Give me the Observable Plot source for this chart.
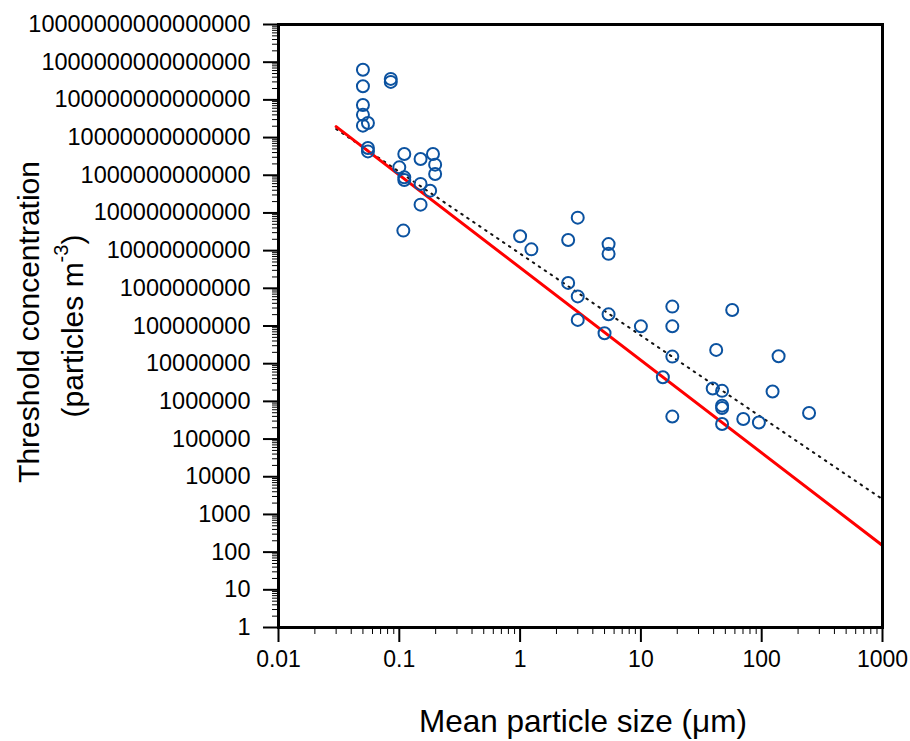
<!DOCTYPE html>
<html><head><meta charset="utf-8">
<script src="https://cdn.jsdelivr.net/npm/d3@7"></script>
<script src="https://cdn.jsdelivr.net/npm/@observablehq/plot@0.6"></script>
<style>body{margin:0;background:#fff;color:#000} svg{font-family:"Liberation Sans",Arial,sans-serif}</style>
</head><body><div id="chart"></div>
<script>
// Observed data: mean particle size (µm) and threshold concentration (particles m^-3)
const sizeUm = [
  0.05, 0.05, 0.05, 0.05, 0.05,
  0.055, 0.055, 0.055,
  0.085, 0.085,
  0.11, 0.11, 0.11, 0.10,
  0.15, 0.15, 0.15,
  0.19, 0.198, 0.198, 0.18, 0.108,
  1.0, 1.24, 3.0, 2.5, 5.4, 5.4,
  2.5, 3.0, 3.0, 5.4, 5.0, 10,
  18.2, 18.2, 18.2, 18.2,
  57, 42, 138, 15.2, 39.3,
  47, 47, 47, 47,
  123, 70.4, 94.8, 246.6
];
const concentration = [
  6.3e14, 2.3e14, 7.3e13, 4.0e13, 2.07e13,
  2.44e13, 5.3e12, 4.3e12,
  3.6e14, 3.0e14,
  3.67e12, 8.8e11, 7.5e11, 1.62e12,
  2.7e12, 5.9e11, 1.66e11,
  3.67e12, 1.91e12, 1.08e12, 3.9e11, 3.4e10,
  2.4e10, 1.08e10, 7.5e10, 1.92e10, 1.49e10, 8.2e9,
  1.39e9, 6.1e8, 1.45e8, 2.04e8, 6.4e7, 9.8e7,
  3.27e8, 9.8e7, 1.54e7, 3.95e5,
  2.67e8, 2.32e7, 1.57e7, 4.36e6, 2.19e6,
  1.9e6, 7.7e5, 6.7e5, 2.5e5,
  1.82e6, 3.4e5, 2.74e5, 4.9e5
];
// Fitted lines (end points)
const fitSize = [0.03, 1000];
const redFit = [1.95e13, 150];
const dottedFit = [1.69e13, 2530];

// Tick values and labels
const xTicks = [0.01, 0.1, 1, 10, 100, 1000];
const xTickLabels = ["0.01", "0.1", "1", "10", "100", "1000"];
const yTicks = [1, 1e1, 1e2, 1e3, 1e4, 1e5, 1e6, 1e7, 1e8, 1e9, 1e10, 1e11, 1e12, 1e13, 1e14, 1e15, 1e16];
const yTickLabels = ["1", "10", "100", "1000", "10000", "100000", "1000000", "10000000", "100000000",
  "1000000000", "10000000000", "100000000000", "1000000000000", "10000000000000",
  "100000000000000", "1000000000000000", "10000000000000000"];

const minorOf = (ticks) => ticks.slice(0, -1).flatMap(d => [2,3,4,5,6,7,8,9].map(k => d * k));
const xMinor = minorOf(xTicks);
const yMinor = minorOf(yTicks);

const points = sizeUm.map((x, i) => ({x, y: concentration[i]}));
const red = fitSize.map((x, i) => ({x, y: redFit[i]}));
const dotted = fitSize.map((x, i) => ({x, y: dottedFit[i]}));

const chart = Plot.plot({
  width: 910, height: 741,
  marginLeft: 278, marginRight: 28, marginTop: 24, marginBottom: 114,
  style: {fontFamily: "Liberation Sans, Arial, sans-serif", background: "#fff", color: "#000"},
  x: {type: "log", domain: [0.01, 1000], label: null},
  y: {type: "log", domain: [1, 1e16], label: null},
  marks: [
    Plot.axisX(xMinor, {tickSize: 7, fill: "none", strokeWidth: 1, label: null}),
    Plot.axisX(xTicks, {tickSize: 15, tickPadding: 8, strokeWidth: 2, fontSize: 23, label: null,
      tickFormat: d => xTickLabels[xTicks.indexOf(d)]}),
    Plot.axisY(yMinor, {tickSize: 6, fill: "none", strokeWidth: 1, label: null}),
    Plot.axisY(yTicks, {tickSize: 15, tickPadding: 13, strokeWidth: 2, fontSize: 23.5, label: null,
      tickFormat: d => yTickLabels[yTicks.indexOf(d)]}),
    Plot.line(dotted, {x: "x", y: "y", stroke: "#111", strokeWidth: 2, strokeDasharray: "1.6,5.6"}),
    Plot.line(red, {x: "x", y: "y", stroke: "#ff0000", strokeWidth: 3}),
    Plot.dot(points, {x: "x", y: "y", r: 6, stroke: "#0b52a0", strokeWidth: 2, fill: "none"}),
    Plot.frame({stroke: "#000", strokeWidth: 3})
  ]
});

const svg = d3.select(chart);
svg.append("text")
  .attr("transform", "translate(39,322) rotate(-90)")
  .attr("text-anchor", "middle").attr("font-size", 30).attr("fill", "#000")
  .text("Threshold concentration");
const t2 = svg.append("text")
  .attr("transform", "translate(83,326) rotate(-90)")
  .attr("text-anchor", "middle").attr("font-size", 30).attr("fill", "#000");
t2.append("tspan").text("(particles m");
t2.append("tspan").attr("font-size", 20).attr("dy", -15).text("-3");
t2.append("tspan").attr("dy", 15).text(")");
svg.append("text")
  .attr("x", 583).attr("y", 732)
  .attr("text-anchor", "middle").attr("font-size", 31.5).attr("fill", "#000")
  .text("Mean particle size (\u03bcm)");

document.getElementById("chart").appendChild(chart);
</script>
</body></html>
